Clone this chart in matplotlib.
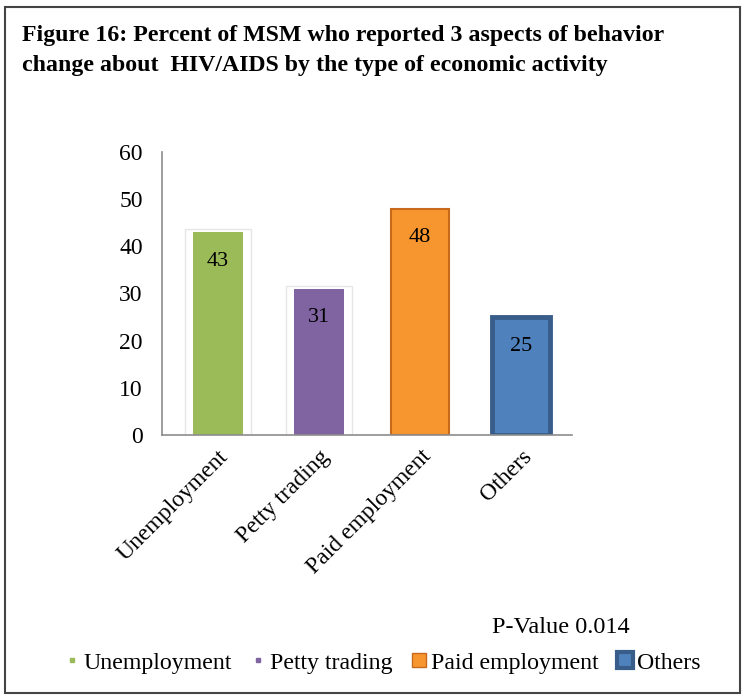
import matplotlib.pyplot as plt
from matplotlib.patches import Rectangle
from matplotlib.lines import Line2D

categories = ['Unemployment', 'Petty trading', 'Paid employment', 'Others']
values = [43, 31, 48, 25]
colors = ['#9bbb59', '#8064a2', '#f7962f', '#4f81bd']
edges = ['#9bbb59', '#8064a2', '#c8691c', '#385d8a']
yticks = [0, 10, 20, 30, 40, 50, 60]

plt.rcParams['font.family'] = ['Liberation Serif', 'DejaVu Serif']

fig = plt.figure(figsize=(7.46, 7.0), dpi=100)
ax = fig.add_axes([0.2175, 0.3786, 0.549, 0.4043])

x = list(range(len(categories)))

# white frames behind the first two bars
for i in [0, 1]:
    ax.bar(x[i], values[i] + 1.2, width=0.66, bottom=-0.6, color='white',
           edgecolor='#e6e6e6', linewidth=1.0, zorder=1)

widths = [0.5, 0.5, 0.57, 0.57]
lws = [0, 0, 1.5, 3.5]
for i in x:
    ax.bar(x[i], values[i], width=widths[i], color=colors[i],
           edgecolor=edges[i], linewidth=lws[i], zorder=2)
    ax.annotate(str(values[i]), (x[i], values[i]), xytext=(0, -21),
                textcoords='offset points', ha='center', va='center',
                fontsize=16, zorder=3)

ax.set_xlim(-0.55, 3.5)
ax.set_ylim(0, 60)
ax.set_yticks(yticks)
ax.set_xticks(x)
ax.set_xticklabels(categories, rotation=45, ha='right', rotation_mode='anchor',
                   fontsize=17)
ax.tick_params(axis='both', length=0, labelsize=17)
ax.tick_params(axis='y', pad=14)
ax.tick_params(axis='x', pad=8)
for s in ['top', 'right']:
    ax.spines[s].set_visible(False)
for s in ['left', 'bottom']:
    ax.spines[s].set_color('#8c8c8c')
    ax.spines[s].set_linewidth(1.2)

fig.text(0.029, 0.964, 'Figure 16: Percent of MSM who reported 3 aspects of behavior\n'
         'change about  HIV/AIDS by the type of economic activity',
         fontsize=17.2, fontweight='bold', ha='left', va='top', linespacing=1.55)

fig.text(0.752, 0.104, 'P-Value 0.014', fontsize=17.5, ha='center', va='center')

handles = [
    Line2D([], [], marker='s', linestyle='', markersize=3, color=colors[0]),
    Line2D([], [], marker='s', linestyle='', markersize=3, color=colors[1]),
    Line2D([], [], marker='s', linestyle='', markersize=10, color=colors[2],
           markeredgecolor=edges[2]),
    Line2D([], [], marker='s', linestyle='', markersize=11, color=colors[3],
           markeredgecolor=edges[3], markeredgewidth=3),
]
fig.legend(handles, categories, loc='center', bbox_to_anchor=(0.512, 0.053),
           ncol=4, frameon=False, fontsize=17.2, handlelength=0.7,
           handletextpad=0.15, columnspacing=0.75)

fig.patches.append(Rectangle((0.007, 0.01), 0.985, 0.98, transform=fig.transFigure,
                             fill=False, edgecolor='#444444', linewidth=1.5))

fig.savefig('out.png', dpi=100)
